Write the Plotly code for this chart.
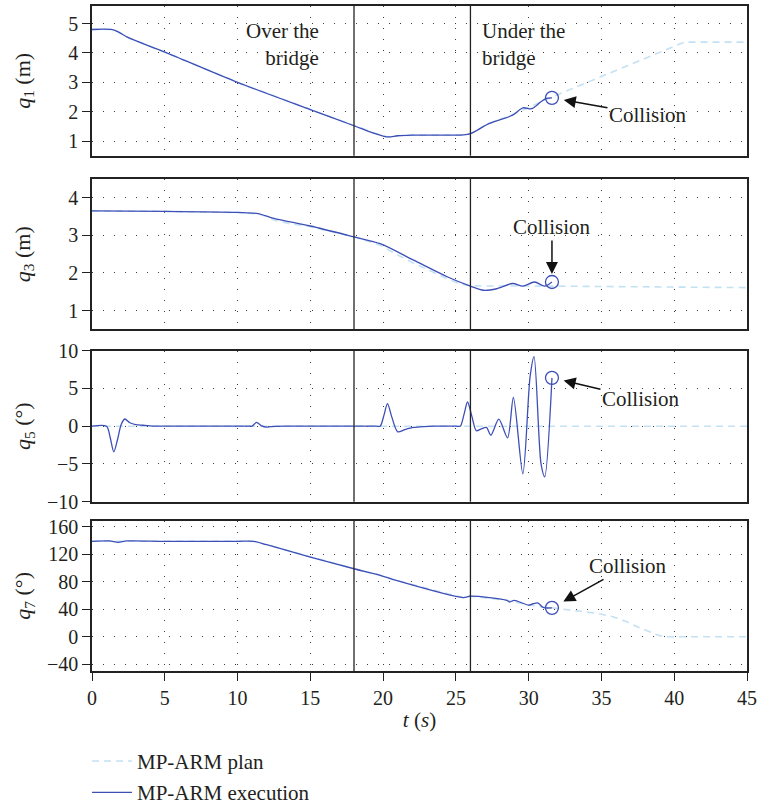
import plotly.graph_objects as go

# ---------------- data ----------------
t_range = [0, 45]
x_ticks = [0, 5, 10, 15, 20, 25, 30, 35, 40, 45]
region_bounds = [18, 26]
region_labels = ["Over the<br>bridge", "Under the<br>bridge"]

# q1 (m)
t_q1_exec = [0, 1.3, 1.8, 2.5, 5, 10, 15, 18, 19.0, 20.0, 20.4, 21.0, 22.0, 25.5, 26.0, 27.3, 28.9, 29.6, 30.2, 30.8, 31.2, 31.6]
q1_exec = [4.8, 4.8, 4.72, 4.52, 4.03, 3.0, 2.07, 1.52, 1.33, 1.17, 1.14, 1.18, 1.2, 1.21, 1.25, 1.6, 1.88, 2.13, 2.1, 2.32, 2.45, 2.47]
t_q1_plan = [0, 1.3, 1.8, 2.5, 5, 10, 15, 18, 19.0, 20.0, 20.4, 21.0, 22.0, 25.5, 26.0, 27.3, 28.9, 30.2, 31.6, 40.7, 45]
q1_plan = [4.8, 4.8, 4.72, 4.52, 4.03, 3.0, 2.07, 1.52, 1.33, 1.17, 1.14, 1.18, 1.2, 1.21, 1.25, 1.6, 1.9, 2.2, 2.5, 4.37, 4.37]

# q3 (m)
t_q3_exec = [0, 5, 10, 11.4, 12.5, 15, 18, 19.8, 22.1, 24.4, 26.0, 26.9, 27.8, 28.9, 29.6, 30.4, 31.1, 31.6]
q3_exec = [3.65, 3.64, 3.61, 3.58, 3.45, 3.25, 2.96, 2.78, 2.34, 1.9, 1.65, 1.54, 1.58, 1.72, 1.65, 1.76, 1.65, 1.76]
t_q3_plan = [0, 5, 10, 11.4, 12.0, 12.5, 13.5, 15, 18, 19.8, 21.0, 22.0, 24.4, 25.3, 25.8, 26.5, 31.6, 45]
q3_plan = [3.65, 3.64, 3.61, 3.57, 3.5, 3.41, 3.32, 3.23, 2.96, 2.74, 2.48, 2.28, 1.85, 1.71, 1.67, 1.655, 1.65, 1.61]

# q5 (deg)
t_q5_exec = [0, 1.0, 1.25, 1.5, 1.75, 2.0, 2.25, 2.6, 3.0, 3.5, 4.2, 5.0, 10.8, 11.0, 11.3, 11.65, 12.0, 12.6, 13.5,
             19.5, 19.8, 20.05, 20.3, 20.6, 21.0, 21.5, 22.1, 22.8, 23.5, 25.0, 25.3, 25.55, 25.8, 26.1, 26.4, 26.75,
             27.1, 27.4, 27.95, 28.55, 28.95, 29.6, 30.1, 30.37, 30.85, 31.1, 31.6]
q5_exec = [0, 0, -1.5, -3.4, -1.8, 0.2, 0.95, 0.45, 0.2, 0.12, 0.02, 0, 0, 0, 0.5, 0.05, -0.12, -0.02, 0,
           0, 0, 1.4, 3.0, 1.2, -0.75, -0.45, -0.17, -0.05, 0, 0, 0, 1.5, 3.2, 1.3, -0.6, -0.35,
           -0.17, -1.2, 0.93, -1.55, 3.8, -6.3, 6.6, 9.2, -5.0, -6.7, 6.4]
t_q5_plan = [0, 45]
q5_plan = [0, 0]

# q7 (deg)
t_q7_exec = [0, 1.2, 1.8, 2.4, 5, 10, 11.1, 12.0, 15, 18, 19.8, 20.9, 25.5, 26.0, 28.5, 28.7, 29.0, 30.0, 30.3, 30.65, 31.0, 31.6]
q7_exec = [139, 139.5, 137.5, 139.5, 139, 139, 139, 134, 116, 99, 89.5, 82, 57, 59, 53, 50.5, 53, 46, 48, 49, 42.5, 42]
t_q7_plan = [0, 5, 10, 11.1, 12.0, 15, 18, 19.8, 20.9, 25.5, 26.0, 28.5, 30.0, 31.6, 32.3, 33.5, 34.7, 35.8, 36.7, 37.5, 38.4, 39.0, 39.5, 45]
q7_plan = [139, 139, 139, 139, 134, 116, 99, 89.5, 82, 57, 59, 53, 46, 42, 40, 37.5, 34, 29, 22, 14, 6, 1.5, 0, 0]

panels = [
    dict(t_exec=t_q1_exec, exec=q1_exec, t_plan=t_q1_plan, plan=q1_plan,
         title="<i>q</i><sub>1</sub> (m)", rng=[0.5, 5.6], tickvals=[1, 2, 3, 4, 5], standoff=32),
    dict(t_exec=t_q3_exec, exec=q3_exec, t_plan=t_q3_plan, plan=q3_plan,
         title="<i>q</i><sub>3</sub> (m)", rng=[0.5, 4.5], tickvals=[1, 2, 3, 4], standoff=32),
    dict(t_exec=t_q5_exec, exec=q5_exec, t_plan=t_q5_plan, plan=q5_plan,
         title="<i>q</i><sub>5</sub> (°)", rng=[-10, 10], tickvals=[-10, -5, 0, 5, 10], standoff=10),
    dict(t_exec=t_q7_exec, exec=q7_exec, t_plan=t_q7_plan, plan=q7_plan,
         title="<i>q</i><sub>7</sub> (°)", rng=[-50, 169], tickvals=[-40, 0, 40, 80, 120, 160], standoff=10),
]

# collision label offsets (pixels from the collision point) and arrow standoff
collision_labels = [
    dict(ax=96, ay=17, standoff=12),
    dict(ax=0, ay=-55, standoff=8),
    dict(ax=89, ay=21, standoff=12),
    dict(ax=76, ay=-42, standoff=13),
]

# ---------------- style ----------------
EXEC_COLOR = "#3d4fb6"
PLAN_COLOR = "#c4e1f4"
TEXT_COLOR = "#231f20"
FONT = "Liberation Serif"
FS = 20
FS_ANN = 21
FS_TITLE = 22

domains = [[0.7749, 1.0], [0.5138, 0.7398], [0.2546, 0.4817], [0.0, 0.2260]]

fig = go.Figure()

for i, p in enumerate(panels):
    xa = "x" if i == 0 else f"x{i+1}"
    ya = "y" if i == 0 else f"y{i+1}"
    fig.add_trace(go.Scatter(
        x=p["t_plan"], y=p["plan"], mode="lines", xaxis=xa, yaxis=ya,
        line=dict(color=PLAN_COLOR, width=1.6, dash="7px,5px"),
        name="MP-ARM plan", legendgroup="plan", showlegend=(i == 0)))
    fig.add_trace(go.Scatter(
        x=p["t_exec"], y=p["exec"], mode="lines", xaxis=xa, yaxis=ya,
        line=dict(color=EXEC_COLOR, width=1.3, shape="spline", smoothing=0.8),
        name="MP-ARM execution", legendgroup="exec", showlegend=(i == 0)))
    # collision marker at final executed sample
    fig.add_trace(go.Scatter(
        x=[p["t_exec"][-1]], y=[p["exec"][-1]], mode="markers", xaxis=xa, yaxis=ya,
        marker=dict(symbol="circle-open", size=13, color=EXEC_COLOR, line=dict(width=1.3)),
        showlegend=False, hoverinfo="skip"))

    common_x = dict(
        range=t_range, tickvals=x_ticks, showgrid=True, gridcolor="#3a3a3a", gridwidth=1,
        griddash="1px,10px", zeroline=False, showline=True, linecolor="#222", linewidth=1.5,
        mirror=True, anchor=ya, domain=[0, 1], automargin=False,
        tickfont=dict(family=FONT, size=FS, color=TEXT_COLOR),
    )
    if i == 3:
        common_x.update(ticks="outside", ticklen=8, tickwidth=1.2, tickcolor="#222",
                        showticklabels=True,
                        title=dict(text="<i>t</i> (<i>s</i>)", standoff=5,
                                   font=dict(family=FONT, size=21, color=TEXT_COLOR)))
    else:
        common_x.update(ticks="", showticklabels=False, matches="x4")
    fig.layout[("xaxis" if i == 0 else f"xaxis{i+1}")] = common_x

    fig.layout[("yaxis" if i == 0 else f"yaxis{i+1}")] = dict(
        range=p["rng"], tickvals=p["tickvals"], domain=domains[i], anchor=xa, automargin=False,
        showgrid=True, gridcolor="#3a3a3a", gridwidth=1, griddash="1px,10px", zeroline=False,
        showline=True, linecolor="#222", linewidth=1.5, mirror=True,
        ticks="outside", ticklen=8, tickwidth=1.2, tickcolor="#222",
        tickfont=dict(family=FONT, size=FS, color=TEXT_COLOR),
        title=dict(text=p["title"], standoff=p["standoff"],
                   font=dict(family=FONT, size=FS_TITLE, color=TEXT_COLOR)),
    )

    # bridge boundaries
    for b in region_bounds:
        fig.add_shape(type="line", xref=xa, yref=f"{ya} domain", x0=b, x1=b, y0=0, y1=1,
                      line=dict(color="#222", width=1.3))

    # collision label with arrow
    ca = collision_labels[i]
    tc, qc = p["t_exec"][-1], p["exec"][-1]
    fig.add_annotation(x=tc, y=qc, xref=xa, yref=ya, text="Collision", showarrow=True,
                       ax=ca["ax"], ay=ca["ay"], standoff=ca["standoff"],
                       arrowhead=2, arrowsize=1.6, arrowwidth=1.5, arrowcolor="#111",
                       font=dict(family=FONT, size=FS_ANN, color=TEXT_COLOR))

# region labels in top panel
fig.add_annotation(x=region_bounds[0], y=4.3, xref="x", yref="y", text=region_labels[0],
                   showarrow=False, xanchor="right", yanchor="middle", align="right", xshift=-33,
                   font=dict(family=FONT, size=FS_ANN, color=TEXT_COLOR))
fig.add_annotation(x=region_bounds[1], y=4.3, xref="x", yref="y", text=region_labels[1],
                   showarrow=False, xanchor="left", yanchor="middle", align="left", xshift=10,
                   font=dict(family=FONT, size=FS_ANN, color=TEXT_COLOR))

fig.update_layout(
    width=757, height=805,
    margin=dict(l=92, r=10, t=6, b=134, autoexpand=False),
    paper_bgcolor="white", plot_bgcolor="white",
    font=dict(family=FONT, size=FS, color=TEXT_COLOR),
    showlegend=True,
    legend=dict(x=-0.0076, xanchor="left", y=-0.105, yanchor="top", orientation="v",
                traceorder="grouped", tracegroupgap=1, bgcolor="rgba(0,0,0,0)",
                font=dict(family=FONT, size=FS_ANN, color=TEXT_COLOR), itemwidth=40),
)

fig.write_html("out.html", config={"displayModeBar": False},
               post_script="document.body.style.margin='0px';document.body.style.overflow='hidden';")
